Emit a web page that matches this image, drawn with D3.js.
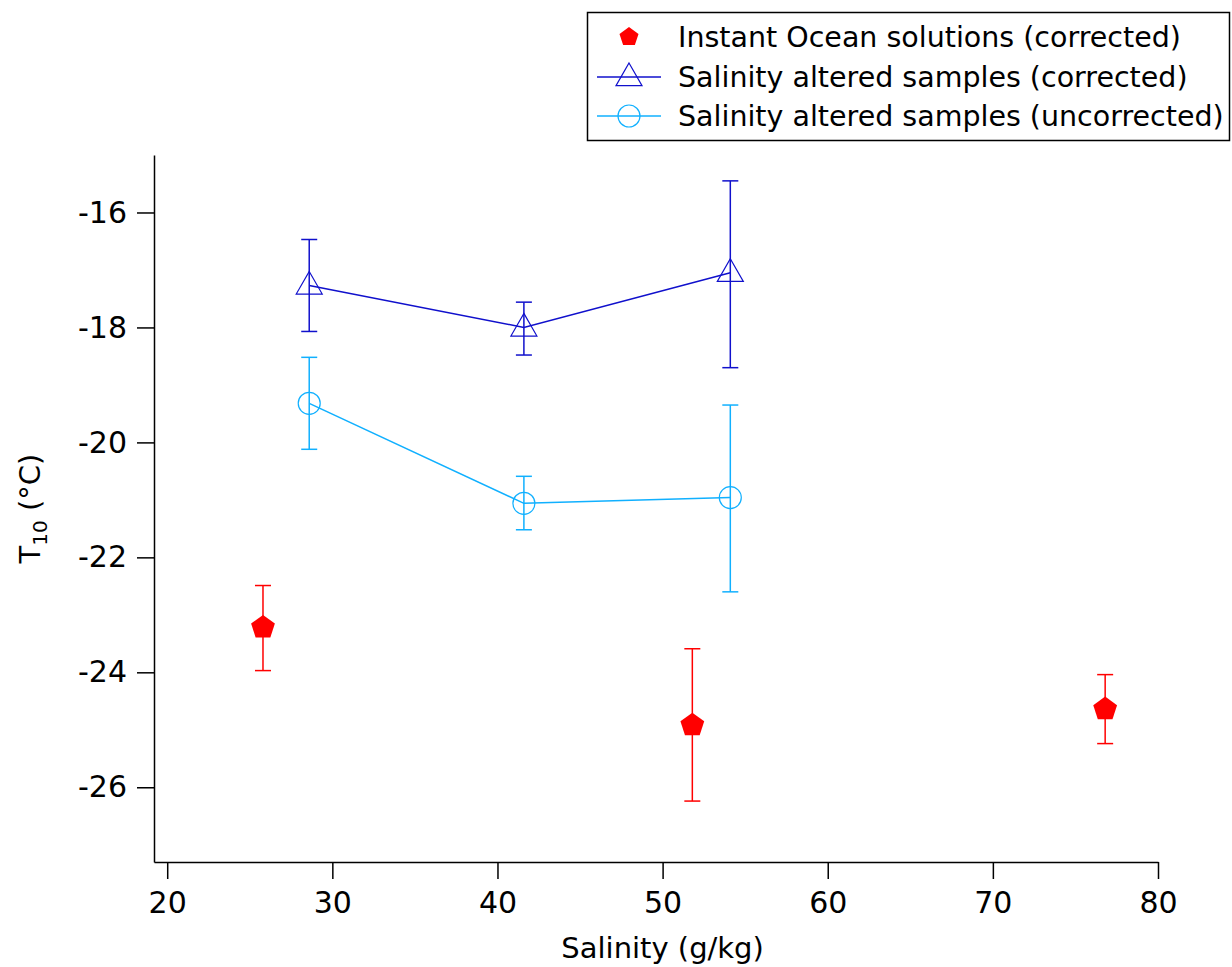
<!DOCTYPE html>
<html>
<head>
<meta charset="utf-8">
<script src="https://cdn.jsdelivr.net/npm/d3@7"></script>
<style>
  body { margin: 0; background: #fff; }
  svg text { font-family: "DejaVu Sans", sans-serif; }
</style>
</head>
<body>
<div id="chart"></div>
<script>
// salinity (g/kg) and T10 (degC) with error bar ends
var oceanX = [25.8, 51.8, 76.8];
var oceanY = [-23.22, -24.92, -24.64];
var oceanHi = [-22.49, -23.59, -24.04];
var oceanLo = [-23.97, -26.24, -25.24];

var corrX = [28.6, 41.6, 54.1];
var corrY = [-17.27, -18.0, -17.05];
var corrHi = [-16.47, -17.56, -15.45];
var corrLo = [-18.07, -18.48, -18.70];

var uncorrX = [28.6, 41.6, 54.1];
var uncorrY = [-19.32, -21.06, -20.96];
var uncorrHi = [-18.52, -20.59, -19.35];
var uncorrLo = [-20.12, -21.52, -22.60];

var xTicks = [20, 30, 40, 50, 60, 70, 80];
var yTicks = [-16, -18, -20, -22, -24, -26];
var legendLabels = ["Instant Ocean solutions (corrected)",
  "Salinity altered samples (corrected)",
  "Salinity altered samples (uncorrected)"];

var width = 1232, height = 967;
var margin = {top: 155, right: 74, bottom: 105, left: 154};

var svg = d3.select("#chart").append("svg")
  .attr("width", width).attr("height", height);

var x = d3.scaleLinear().domain([19.2, 80]).range([margin.left, width - margin.right]);
var y = d3.scaleLinear().domain([-27.3, -15]).range([height - margin.bottom, margin.top]);

// axes
var xAxis = svg.append("g")
  .attr("transform", "translate(0," + (height - margin.bottom) + ")")
  .call(d3.axisBottom(x).tickValues(xTicks).tickSize(17).tickPadding(8).tickSizeOuter(0));
var yAxis = svg.append("g")
  .attr("transform", "translate(" + margin.left + ",0)")
  .call(d3.axisLeft(y).tickValues(yTicks).tickSize(17).tickPadding(10).tickSizeOuter(0));

[xAxis, yAxis].forEach(function(a) {
  a.select(".domain").attr("stroke", "#000").attr("stroke-width", 1.5);
  a.selectAll(".tick line").attr("stroke", "#000").attr("stroke-width", 1.5);
  a.selectAll(".tick text").attr("fill", "#000").style("font-size", "30px")
    .style("font-family", "DejaVu Sans, sans-serif");
});
xAxis.selectAll(".tick text").attr("dy", "0.85em");
yAxis.selectAll(".tick text").text(function(d) { return d3.format("d")(d).replace("−", "-"); });

svg.append("text")
  .attr("x", x(50)).attr("y", 958)
  .attr("text-anchor", "middle").style("font-size", "29px")
  .text("Salinity (g/kg)");

var yl = svg.append("text")
  .attr("transform", "translate(40," + y(-21.15) + ") rotate(-90)")
  .attr("text-anchor", "middle").style("font-size", "29px");
yl.append("tspan").text("T");
yl.append("tspan").attr("dy", 7).style("font-size", "20px").text("10");
yl.append("tspan").attr("dy", -7).text(" (°C)");

function pentagonPath(r) {
  var pts = [];
  for (var i = 0; i < 5; i++) {
    var a = -Math.PI / 2 + i * 2 * Math.PI / 5;
    pts.push([r * Math.cos(a), r * Math.sin(a)]);
  }
  return "M" + pts.join("L") + "Z";
}
function trianglePath(s) {
  var h = s * 0.87;
  return "M0," + (-h * 0.62) + "L" + (s / 2) + "," + (h * 0.38) + "L" + (-s / 2) + "," + (h * 0.38) + "Z";
}

function drawErr(xs, ys, hi, lo, color) {
  var g = svg.append("g").attr("stroke", color).attr("stroke-width", 1.5);
  xs.forEach(function(v, i) {
    g.append("line").attr("x1", x(v)).attr("x2", x(v)).attr("y1", y(hi[i])).attr("y2", y(lo[i]));
    g.append("line").attr("x1", x(v) - 8).attr("x2", x(v) + 8).attr("y1", y(hi[i])).attr("y2", y(hi[i]));
    g.append("line").attr("x1", x(v) - 8).attr("x2", x(v) + 8).attr("y1", y(lo[i])).attr("y2", y(lo[i]));
  });
}

function drawLine(xs, ys, color) {
  var line = d3.line().x(function(d) { return x(d[0]); }).y(function(d) { return y(d[1]); });
  svg.append("path").datum(d3.zip(xs, ys))
    .attr("d", line).attr("fill", "none").attr("stroke", color).attr("stroke-width", 1.5);
}

var red = "#ff0000", dark = "#1010cc", light = "#10b0ff";

// uncorrected series
drawErr(uncorrX, uncorrY, uncorrHi, uncorrLo, light);
drawLine(uncorrX, uncorrY, light);
svg.append("g").selectAll("circle").data(d3.zip(uncorrX, uncorrY)).enter()
  .append("circle").attr("cx", function(d) { return x(d[0]); }).attr("cy", function(d) { return y(d[1]); })
  .attr("r", 11).attr("fill", "none").attr("stroke", light).attr("stroke-width", 1.2);

// corrected series
drawErr(corrX, corrY, corrHi, corrLo, dark);
drawLine(corrX, corrY, dark);
svg.append("g").selectAll("path").data(d3.zip(corrX, corrY)).enter()
  .append("path").attr("transform", function(d) { return "translate(" + x(d[0]) + "," + y(d[1]) + ")"; })
  .attr("d", trianglePath(26)).attr("fill", "none").attr("stroke", dark).attr("stroke-width", 1.2);

// instant ocean
drawErr(oceanX, oceanY, oceanHi, oceanLo, red);
svg.append("g").selectAll("path").data(d3.zip(oceanX, oceanY)).enter()
  .append("path").attr("transform", function(d) { return "translate(" + x(d[0]) + "," + y(d[1]) + ")"; })
  .attr("d", pentagonPath(12.5)).attr("fill", red);

// legend
var lg = svg.append("g");
lg.append("rect").attr("x", 587.5).attr("y", 12.5).attr("width", 642).attr("height", 128)
  .attr("fill", "#fff").attr("stroke", "#000").attr("stroke-width", 1.5);
var rows = [37, 77, 116];
lg.append("path").attr("transform", "translate(629," + rows[0] + ")")
  .attr("d", pentagonPath(10)).attr("fill", red);
lg.append("line").attr("x1", 597).attr("x2", 661).attr("y1", rows[1]).attr("y2", rows[1])
  .attr("stroke", dark).attr("stroke-width", 1.5);
lg.append("path").attr("transform", "translate(629," + rows[1] + ")")
  .attr("d", trianglePath(26)).attr("fill", "none").attr("stroke", dark).attr("stroke-width", 1.2);
lg.append("line").attr("x1", 597).attr("x2", 661).attr("y1", rows[2]).attr("y2", rows[2])
  .attr("stroke", light).attr("stroke-width", 1.5);
lg.append("circle").attr("cx", 629).attr("cy", rows[2]).attr("r", 11)
  .attr("fill", "none").attr("stroke", light).attr("stroke-width", 1.2);
legendLabels.forEach(function(t, i) {
  lg.append("text").attr("x", 678).attr("y", rows[i] + 10).style("font-size", "28.5px").text(t);
});
</script>
</body>
</html>
